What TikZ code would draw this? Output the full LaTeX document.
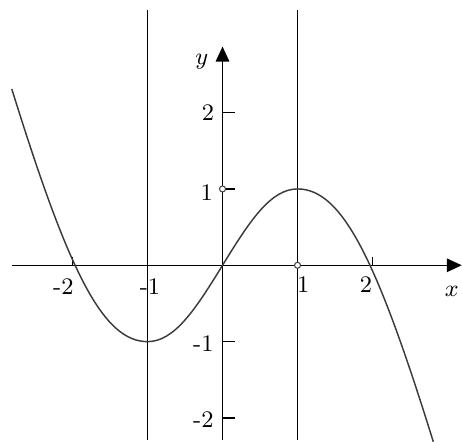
\documentclass[tikz,border=0pt]{standalone}
\usetikzlibrary{arrows.meta}
\definecolor{graphline}{HTML}{3A3A3A}
\tikzset{
  axis/.style={line width=0.6pt,-{Triangle[length=2mm,width=1.8mm]}},
  guide/.style={line width=0.45pt},
  ticklabel/.style={font=\fontsize{9}{10}\selectfont,inner sep=0pt},
  hollow/.style={draw=black!75,fill=white,line width=0.4pt}
}

\begin{document}
\begin{tikzpicture}[x=1cm,y=1.018cm]
  \useasboundingbox (-2.967cm,-2.356cm) rectangle (3.193cm,3.537cm);

  % axes and the two lines x=-1, x=1
  \draw[axis] (-2.81,0) -- (3.19,0);
  \draw[axis] (0,-2.29) -- (0,2.865);
  \foreach \x in {-1,1} {
    \draw[guide] (\x,-2.29) -- (\x,3.346);
  }

  % ticks
  \foreach \x in {-2,2} {
    \draw[guide] (\x,0) -- (\x,0.105);
  }
  \foreach \y in {-2,-1,1,2} {
    \draw[guide] (0,\y) -- ++(0.16,0);
  }

  % the graph
  \draw[graphline,line width=0.55pt] (-2.81,2.31)
    .. controls (-2.06,-0.06) and (-1.6,-1) .. (-1,-1)
    .. controls (-0.64,-1) and (-0.36,-0.576) .. (0,0)
    .. controls (0.36,0.576) and (0.64,1) .. (1,1)
    .. controls (1.6,1) and (2.06,0.06) .. (2.81,-2.31);

  \draw[hollow] (1,0) circle (0.04cm);
  \draw[hollow] (0,1) circle (0.04cm);

  % labels
  \node[ticklabel] (xm2) at (-2.123,-0.28) {-2};
  \node[ticklabel] (xm1) at (-0.967,-0.28) {-1};
  \node[ticklabel] (xp1) at (1.077,-0.258) {1};
  \node[ticklabel] (xp2) at (1.913,-0.25) {2};
  \node[ticklabel] (ym2) at (-0.256,-2.02) {-2};
  \node[ticklabel] (ym1) at (-0.256,-1.022) {-1};
  \node[ticklabel] (yp1) at (-0.21,0.948) {1};
  \node[ticklabel] (yp2) at (-0.193,1.996) {2};
  \node[ticklabel] (xlab) at (3.056,-0.346) {$x$};
  \node[ticklabel] (ylab) at (-0.277,2.668) {$y$};
\end{tikzpicture}
\end{document}
